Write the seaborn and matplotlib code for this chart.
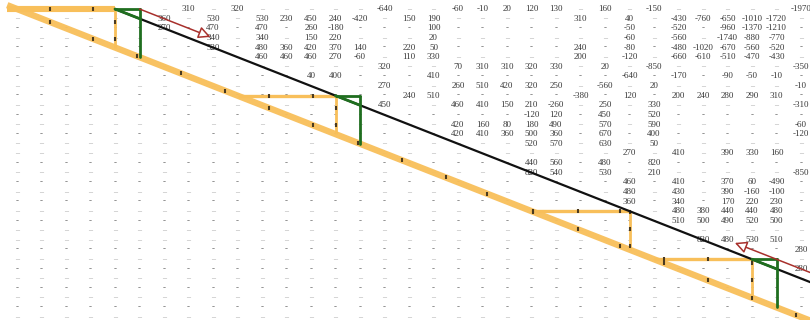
import matplotlib
matplotlib.use("Agg")
import matplotlib.pyplot as plt
import seaborn as sns
import pandas as pd

sns.set_theme(style="white")
plt.rcParams['font.family'] = ['Liberation Serif', 'DejaVu Serif']

N_ROWS = 33
N_COLS = 33

# table values per row: (column, value)
r00 = [(7, 310), (9, 320), (15, -640), (18, -60), (19, -10), (20, 20), (21, 120), (22, 130), (24, 160), (26, -150), (32, -1970)]
r01 = [(6, 360), (8, 530), (10, 530), (11, 230), (12, 450), (13, 240), (14, -420), (16, 150), (17, 190), (23, 310), (25, 40),
       (27, -430), (28, -760), (29, -650), (30, -1010), (31, -1720)]
r02 = [(6, 270), (8, 470), (10, 470), (12, 260), (13, -180), (17, 100), (25, -50), (27, -520), (29, -960), (30, -1370), (31, -1210)]
r03 = [(8, 340), (10, 340), (12, 150), (13, 220), (17, 20), (25, -60), (27, -560), (29, -1740), (30, -880), (31, -770)]
r04 = [(8, 520), (10, 480), (11, 360), (12, 420), (13, 370), (14, 140), (16, 220), (17, 50), (23, 240), (25, -80),
       (27, -480), (28, -1020), (29, -670), (30, -560), (31, -520)]
r05 = [(10, 460), (11, 460), (12, 460), (13, 270), (14, -60), (16, 110), (17, 330), (23, 200), (25, -120),
       (27, -660), (28, -610), (29, -510), (30, -470), (31, -430)]
r06 = [(15, 320), (18, 70), (19, 310), (20, 310), (21, 320), (22, 330), (24, 20), (26, -850), (32, -350)]
r07 = [(12, 40), (13, 400), (17, 410), (25, -640), (27, -170), (29, -90), (30, -50), (31, -10)]
r08 = [(15, 270), (18, 260), (19, 510), (20, 420), (21, 320), (22, 250), (24, -560), (26, 20), (32, -10)]
r09 = [(16, 240), (17, 510), (23, -380), (25, 120), (27, 200), (28, 240), (29, 280), (30, 290), (31, 310)]
r10 = [(15, 450), (18, 460), (19, 410), (20, 150), (21, 210), (22, -260), (24, 250), (26, 330), (32, -310)]
r11 = [(21, -120), (22, 120), (24, 450), (26, 520)]
r12 = [(18, 420), (19, 160), (20, 80), (21, 180), (22, 490), (24, 570), (26, 590), (32, -60)]
r13 = [(18, 420), (19, 410), (20, 360), (21, 500), (22, 360), (24, 670), (26, 400), (32, -120)]
r14 = [(21, 520), (22, 570), (24, 630), (26, 50)]
r15 = [(25, 270), (27, 410), (29, 390), (30, 330), (31, 160)]
r16 = [(21, 440), (22, 560), (24, 480), (26, 820)]
r17 = [(21, 820), (22, 540), (24, 530), (26, 210), (32, -850)]
r18 = [(25, 460), (27, 410), (29, 370), (30, 60), (31, -490)]
r19 = [(25, 480), (27, 430), (29, 390), (30, -160), (31, -100)]
r20 = [(25, 360), (27, 340), (29, 170), (30, 220), (31, 230)]
r21 = [(27, 480), (28, 380), (29, 440), (30, 440), (31, 480)]
r22 = [(27, 510), (28, 500), (29, 490), (30, 520), (31, 500)]
r24 = [(28, 820), (29, 480), (30, 530), (31, 510)]
r25 = [(32, 280)]
r27 = [(32, 280)]
table = {0: r00, 1: r01, 2: r02, 3: r03, 4: r04, 5: r05, 6: r06, 7: r07, 8: r08, 9: r09, 10: r10,
         11: r11, 12: r12, 13: r13, 14: r14, 15: r15, 16: r16, 17: r17, 18: r18, 19: r19, 20: r20,
         21: r21, 22: r22, 24: r24, 25: r25, 27: r27}

dark_dash_rows = [2, 4, 7, 9, 11, 13, 16, 18, 20, 22, 25, 27, 29, 31]

# line geometry (column / row units)
diag_start, diag_end = -0.4, 32.4
black_start = (4, 0)
black_end = (32.4, 28.4)
step_rows = [0, 9, 21, 26]
step_width = 4
green_rows = [0, 9, 26]
red_top = ((5.0, 0.0), (7.9, 2.9))
red_bottom = ((32.4, 27.4), (29.3, 24.3))
tick_marks = [1.35, 3.1, 4.9, 6.7, 8.5, 10.3, 12.1, 13.9, 15.7, 17.5, 19.2, 21.05, 22.9, 24.6, 26.4, 28.2, 30.0, 31.8]

ORANGE = '#f8bf5a'
GREEN = '#1f6e1f'
RED = '#a8302c'

fig = plt.figure(figsize=(8.1, 3.2), dpi=100)
ax = fig.add_axes([0, 0, 1, 1])
ax.set_xlim(-17 / 24.5, (810 - 17) / 24.5)
ax.set_ylim(32.31, -0.935)
ax.axis('off')

# table cells
for r in range(N_ROWS):
    vals = dict(table.get(r, []))
    dark = r in dark_dash_rows
    for c in range(N_COLS):
        if c in vals:
            ax.text(c, r, str(vals[c]), ha='center', va='center', fontsize=6.5,
                    color='#383838', zorder=1)
        else:
            ax.text(c, r, '-' if dark else '–', ha='center', va='center',
                    fontsize=6.5 if dark else 5.8, fontweight='bold' if dark else 'normal',
                    color='#6e6e6e' if dark else '#9c9c9c', zorder=1)

# main diagonal
diag = pd.DataFrame({'x': [diag_start, diag_end], 'y': [diag_start, diag_end]})
sns.lineplot(data=diag, x='x', y='y', ax=ax, color=ORANGE, linewidth=4.6, alpha=0.95,
             estimator=None, sort=False, zorder=3, solid_capstyle='butt')

mark_x, mark_y = list(tick_marks), list(tick_marks)

# orange steps
for r in step_rows:
    c0 = max(r, diag_start) if r > 0 else diag_start
    c1 = r + step_width
    lw_h = 4.4 if r == 0 else 2.4
    ax.plot([c0, c1], [r, r], color=ORANGE, lw=lw_h, zorder=3, solid_capstyle='butt')
    ax.plot([c1, c1], [r, c1], color=ORANGE, lw=2.0, zorder=3, solid_capstyle='butt')
    for m in tick_marks:
        if c0 < m < c1:
            mark_x.append(m); mark_y.append(r)
        if r < m < c1:
            mark_x.append(c1); mark_y.append(m)

marks = pd.DataFrame({'x': mark_x, 'y': mark_y})
sns.scatterplot(data=marks, x='x', y='y', ax=ax, marker='|', s=12, linewidth=1.5,
                color='#4a3a20', zorder=4, legend=False)

# black line
black = pd.DataFrame({'x': [black_start[0], black_end[0]], 'y': [black_start[1], black_end[1]]})
sns.lineplot(data=black, x='x', y='y', ax=ax, color='#111111', linewidth=1.6,
             estimator=None, sort=False, zorder=5)

# green steps
for r in green_rows:
    c = r + step_width
    ax.plot([c, c + 1], [r, r], color=GREEN, lw=2.0, zorder=6)
    ax.plot([c + 1, c + 1], [r, c + 1], color=GREEN, lw=2.0, zorder=6)
    ax.plot([c, c + 1], [r, r + 1], color=GREEN, lw=2.0, zorder=6)

# red arrows
for (p0, p1) in (red_top, red_bottom):
    ax.annotate('', xy=p1, xytext=p0,
                arrowprops=dict(arrowstyle='-|>,head_length=0.6,head_width=0.3',
                                color=RED, lw=1.1, fc='white', shrinkA=0, shrinkB=0),
                zorder=7)

fig.savefig('out.png', dpi=100)
